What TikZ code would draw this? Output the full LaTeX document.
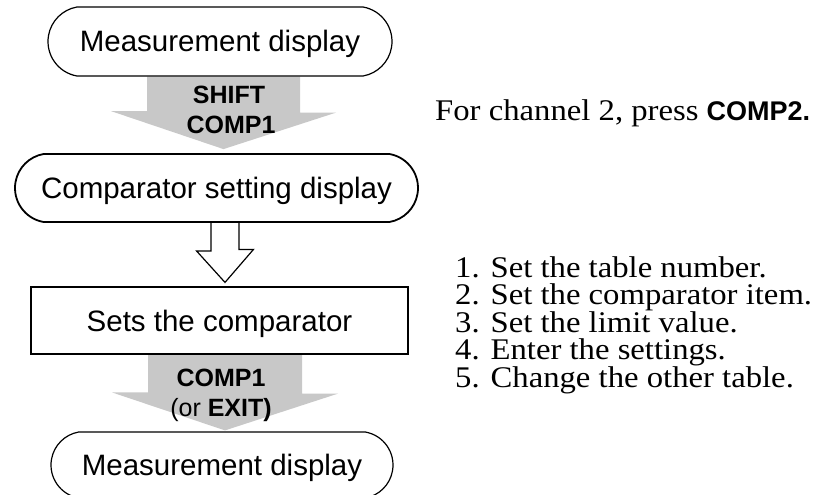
\documentclass[tikz,border=0pt]{standalone}
\usepackage{fontspec}
\setmainfont{Liberation Serif}[FakeStretch=1.09]
\newfontfamily\gothic{Liberation Sans}
\usetikzlibrary{shapes.misc,calc,backgrounds}
\definecolor{arrowgray}{RGB}{200,200,200}
\newcommand\boxfont{\gothic\fontsize{29.5}{32}\selectfont}
\newcommand\keyfont{\gothic\bfseries\fontsize{25}{30}\selectfont}
\newcommand\keyreg{\gothic\mdseries\fontsize{25}{30}\selectfont}
\newcommand\notefont{\fontsize{30}{32}\selectfont}
\begin{document}
\begin{tikzpicture}[x=1pt,y=-1pt,
  stadium/.style={shape=rounded rectangle, rounded rectangle arc length=160, draw, line width=1.2pt,
    inner sep=0pt, font=\boxfont, text height=21pt, text depth=0pt},
  stepbox/.style={shape=rectangle, draw, line width=1.2pt, inner sep=0pt, font=\boxfont,
    text height=21pt, text depth=0pt},
  keylabel/.style={anchor=base, inner sep=0pt, font=\keyfont},
  notetext/.style={anchor=base west, inner sep=0pt, font=\notefont},
  blockarrow/.style={fill=arrowgray, draw=none},
  hollowarrow/.style={draw, fill=white, line width=1.2pt, line join=miter}]
\useasboundingbox (0,0) rectangle (814,495);

% boxes
\node[stadium, minimum width=344pt, minimum height=69pt] (m1) at (220,41.5) {Measurement display};
\node[stadium, minimum width=403pt, minimum height=68pt, line width=1.8pt] (cs) at (216.5,188) {Comparator setting display};
\node[stepbox, minimum width=377pt, minimum height=67pt] (sc) at (219.5,320.5) {Sets the comparator};
\node[stadium, minimum width=342pt, minimum height=66pt] (m2) at (222,465) {Measurement display};

% arrow axes
\coordinate (ax) at (223.5,0);
\coordinate (hx) at (225,0);
\coordinate (bx) at (225,0);

\begin{scope}[on background layer]
  \fill[white] (0,0) rectangle (814,495);
  \fill[blockarrow] ($(m1.south -| ax)+(-76.5,0)$) -- ++(153,0) -- ++(0,36) -- ++(36,0)
     -- ($(cs.north -| ax)+(0,-4)$) -- ++(-112.5,-38) -- ++(36,0) -- cycle;
  \fill[blockarrow] ($(sc.south -| bx)+(-77,0)$) -- ++(154,0) -- ++(0,39) -- ++(36,0)
     -- ($(m2.north -| bx)+(0,-1)$) -- ++(-113,-38) -- ++(36,0) -- cycle;
  \draw[hollowarrow] ($(cs.south -| hx)+(-14,0)$) -- ++(0,28) -- ++(-14.5,0)
     -- ($(sc.north -| hx)+(0,-4)$) -- ++(28.5,-33) -- ++(-14.5,0) -- ++(0,-28);
\end{scope}

% key labels
\node[keylabel] (k1) at (229,103) {SHIFT};
\node[keylabel] (k2) at (231,133) {COMP1};
\node[keylabel] (k3) at (221,386) {COMP1};
\node[keylabel] (k4) at (221,416) {{\keyreg(or }EXIT)};

% notes
\node[notetext] (n0) at (435,120) {For channel 2, press {\keyfont\fontsize{27}{30}\selectfont COMP2.}};
\node[notetext] (l1) at (455,277) {1. Set the table number.};
\node[notetext] (l2) at (455,304.5) {2. Set the comparator item.};
\node[notetext] (l3) at (455,332) {3. Set the limit value.};
\node[notetext] (l4) at (455,359.5) {4. Enter the settings.};
\node[notetext] (l5) at (455,387) {5. Change the other table.};
\end{tikzpicture}
\end{document}
